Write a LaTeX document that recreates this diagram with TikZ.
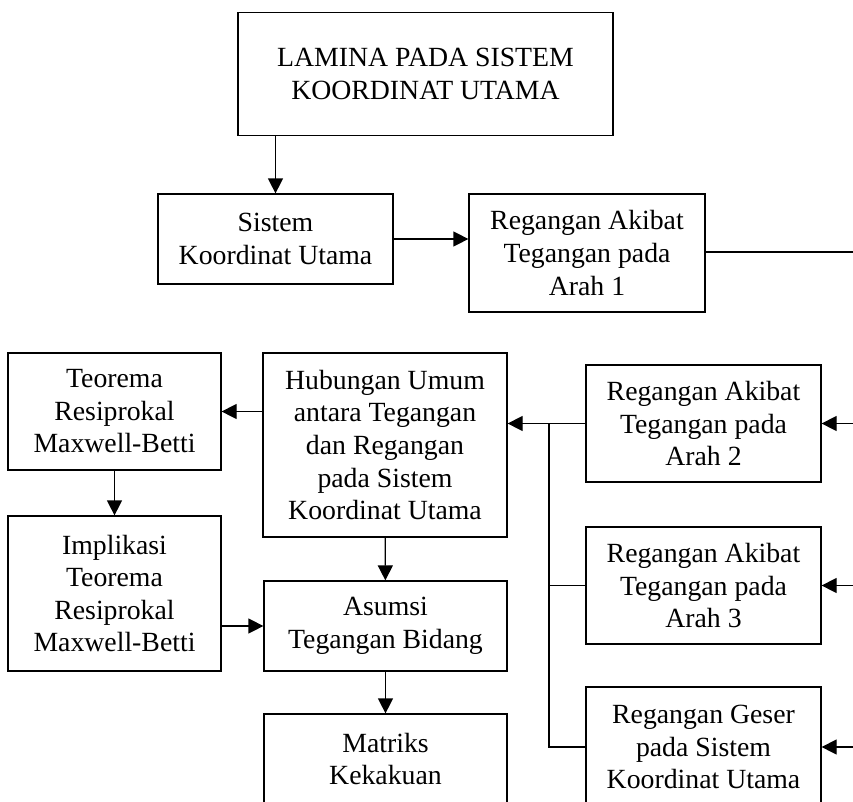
\documentclass[tikz,border=0pt]{standalone}
\usepackage{fontspec}
\setmainfont{Liberation Serif}
\usetikzlibrary{arrows.meta}

\begin{document}
\begin{tikzpicture}[box/.style={draw=black, line width=0.7pt, align=center, inner sep=0pt, font=\fontsize{15.8}{18.5}\selectfont}, arr/.style={draw=black, line width=0.7pt, -{Triangle[length=0.3cm, width=0.3cm]}}, ln/.style={draw=black, line width=0.7pt}]
			\useasboundingbox (0,0) rectangle (17.06,-16.02);
			\clip (0,0) rectangle (17.06,-16.02);
			\node[box, minimum width=7.5cm, minimum height=2.46cm] (lamina) at (8.51,-1.48) {LAMINA PADA SISTEM\\KOORDINAT UTAMA};
			\node[box, minimum width=4.7cm, minimum height=1.8cm] (sistem) at (5.51,-4.78) {Sistem\\Koordinat Utama};
			\node[box, minimum width=4.72cm, minimum height=2.36cm] (arah1) at (11.74,-5.06) {Regangan Akibat\\Tegangan pada\\Arah 1};
			\node[box, minimum width=4.26cm, minimum height=2.34cm] (teorema) at (2.29,-8.23) {Teorema\\Resiprokal\\Maxwell-Betti};
			\node[box, minimum width=4.26cm, minimum height=3.1cm] (implikasi) at (2.29,-11.87) {Implikasi\\Teorema\\Resiprokal\\Maxwell-Betti};
			\node[box, minimum width=4.88cm, minimum height=3.68cm] (hubungan) at (7.7,-8.9) {Hubungan Umum\\antara Tegangan\\dan Regangan\\pada Sistem\\Koordinat Utama};
			\node[box, minimum width=4.86cm, minimum height=1.8cm] (asumsi) at (7.71,-12.52) {Asumsi\\Tegangan Bidang};
			\node[box, minimum width=4.86cm, minimum height=1.8cm] (matriks) at (7.71,-15.18) {Matriks\\Kekakuan};
			\node[box, minimum width=4.7cm, minimum height=2.34cm] (arah2) at (14.07,-8.47) {Regangan Akibat\\Tegangan pada\\Arah 2};
			\node[box, minimum width=4.7cm, minimum height=2.34cm] (arah3) at (14.07,-11.71) {Regangan Akibat\\Tegangan pada\\Arah 3};
			\node[box, minimum width=4.7cm, minimum height=2.4cm] (geser) at (14.07,-14.94) {Regangan Geser\\pada Sistem\\Koordinat Utama};
			
			\coordinate (out1) at (17.06,-5.04);
			\coordinate (in2) at (17.06,-8.47);
			\coordinate (in3) at (17.06,-11.71);
			\coordinate (in4) at (17.06,-14.94);
			\coordinate (cabang) at (10.98,-8.47);
			
			\draw[arr] (lamina.south -| sistem.north) -- (sistem.north);
			\draw[arr] (sistem.east) -- (sistem.east -| arah1.west);
			\draw[ln] (arah1.east |- out1) -- (out1);
			\draw[arr] (arah2.west) -- (hubungan.east |- arah2.west);
			\draw[ln] (cabang) |- (geser.west);
			\draw[ln] (cabang |- arah3.west) -- (arah3.west);
			\draw[arr] (hubungan.west |- teorema.east) -- (teorema.east);
			\draw[arr] (teorema) -- (implikasi);
			\draw[arr] (implikasi.east |- asumsi.west) -- (asumsi.west);
			\draw[arr] (hubungan) -- (asumsi);
			\draw[arr] (asumsi) -- (matriks);
			\draw[arr] (in2) -- (arah2.east);
			\draw[arr] (in3) -- (arah3.east);
			\draw[arr] (in4) -- (geser.east);
\end{tikzpicture}
\end{document}
